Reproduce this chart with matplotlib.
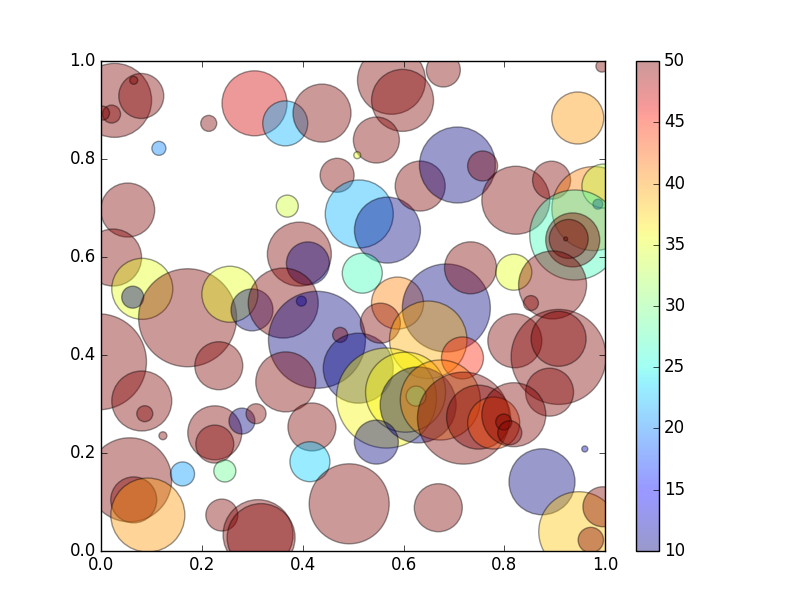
import matplotlib
matplotlib.use("Agg")
import matplotlib.pyplot as plt

plt.style.use("classic")

# bubble data: x, y, area (points^2), colour value
x = [0.026, 0.079, 0.064, 0.020, 0.002, 0.213, 0.114, 0.052, 0.304, 0.365,
     0.438, 0.576, 0.598, 0.546, 0.508, 0.468, 0.369, 0.512, 0.568, 0.633,
     0.679, 0.946, 0.994, 0.707, 0.757, 0.823, 0.894, 0.978, 0.998, 0.986,
     0.940, 0.936, 0.928, 0.922, 0.023, 0.081, 0.062, 0.171, 0.255, 0.299,
     0.233, -0.006, 0.080, 0.086, 0.393, 0.410, 0.518, 0.361, 0.397, 0.428,
     0.474, 0.510, 0.588, 0.554, 0.685, 0.649, 0.366, 0.733, 0.819, 0.896,
     0.853, 0.821, 0.908, 0.908, 0.890, 0.717, 0.122, 0.225, 0.225, 0.279,
     0.307, 0.056, 0.064, 0.092, 0.161, 0.245, 0.239, 0.311, 0.317, 0.418,
     0.414, 0.492, 0.566, 0.604, 0.629, 0.546, 0.625, 0.669, 0.875, 0.960,
     0.948, 0.996, 0.972, 0.673, 0.719, 0.749, 0.779, 0.819, 0.799, 0.811]
y = [0.920, 0.929, 0.961, 0.892, 0.894, 0.873, 0.822, 0.696, 0.914, 0.873,
     0.894, 0.961, 0.920, 0.839, 0.808, 0.767, 0.704, 0.688, 0.655, 0.745,
     0.982, 0.884, 0.990, 0.788, 0.786, 0.716, 0.757, 0.699, 0.745, 0.708,
     0.645, 0.635, 0.637, 0.637, 0.599, 0.535, 0.518, 0.476, 0.524, 0.492,
     0.378, 0.386, 0.306, 0.280, 0.606, 0.587, 0.567, 0.506, 0.510, 0.431,
     0.441, 0.373, 0.506, 0.465, 0.496, 0.431, 0.345, 0.578, 0.569, 0.543,
     0.506, 0.429, 0.396, 0.433, 0.324, 0.394, 0.235, 0.241, 0.218, 0.265,
     0.280, 0.145, 0.104, 0.073, 0.157, 0.163, 0.073, 0.033, 0.027, 0.253,
     0.182, 0.096, 0.312, 0.324, 0.298, 0.222, 0.316, 0.088, 0.141, 0.208,
     0.039, 0.090, 0.022, 0.308, 0.271, 0.273, 0.261, 0.278, 0.263, 0.241]
area = [2839, 1050, 33, 168, 102, 133, 102, 1512, 2190, 1050,
        1744, 2397, 1993, 1097, 25, 599, 251, 2397, 2258, 1296,
        599, 1402, 75, 2994, 467, 2397, 749, 3658, 1004, 52,
        4199, 1512, 788, 8, 1684, 1929, 251, 4979, 1626, 914,
        1194, 4779, 1866, 133, 2123, 959, 829, 2540, 52, 4878,
        117, 2540, 1402, 829, 4014, 3106, 1866, 1402, 672, 2397,
        117, 1512, 4679, 1568, 1194, 914, 33, 1512, 749, 350,
        207, 3658, 1097, 2839, 299, 251, 531, 2540, 2397, 1194,
        829, 3318, 5184, 3318, 2994, 1004, 207, 1194, 2258, 19,
        3318, 829, 334, 3318, 4388, 2123, 1402, 2123, 133, 299]
colors = [50, 50, 50, 50, 50, 50, 20, 50, 47, 22,
          50, 50, 50, 50, 35, 50, 34, 22, 10, 50,
          50, 40, 50, 10, 50, 50, 50, 41, 33, 10,
          27, 50, 50, 50, 50, 35, 10, 50, 35, 10,
          50, 50, 50, 50, 50, 10, 27, 50, 12, 10,
          50, 10, 41, 50, 10, 39, 50, 50, 35, 50,
          50, 50, 50, 50, 50, 45, 50, 50, 50, 10,
          50, 50, 50, 40, 21, 29, 50, 50, 50, 50,
          23, 50, 36, 36, 10, 10, 27, 50, 10, 12,
          38, 50, 50, 41, 50, 50, 43, 50, 50, 50]

cbar_ticks = [10, 15, 20, 25, 30, 35, 40, 45, 50]

fig = plt.figure(figsize=(8.12, 6.12), dpi=100)
ax = fig.add_subplot(111)
sc = ax.scatter(x, y, s=area, c=colors, cmap="jet", vmin=10, vmax=50,
                alpha=0.4, edgecolors="k", linewidths=1.0)
ax.set_xlim(0, 1)
ax.set_ylim(0, 1)
cb = fig.colorbar(sc, ax=ax, aspect=22)
cb.set_ticks(cbar_ticks)
fig.savefig("out.png", dpi=100)
